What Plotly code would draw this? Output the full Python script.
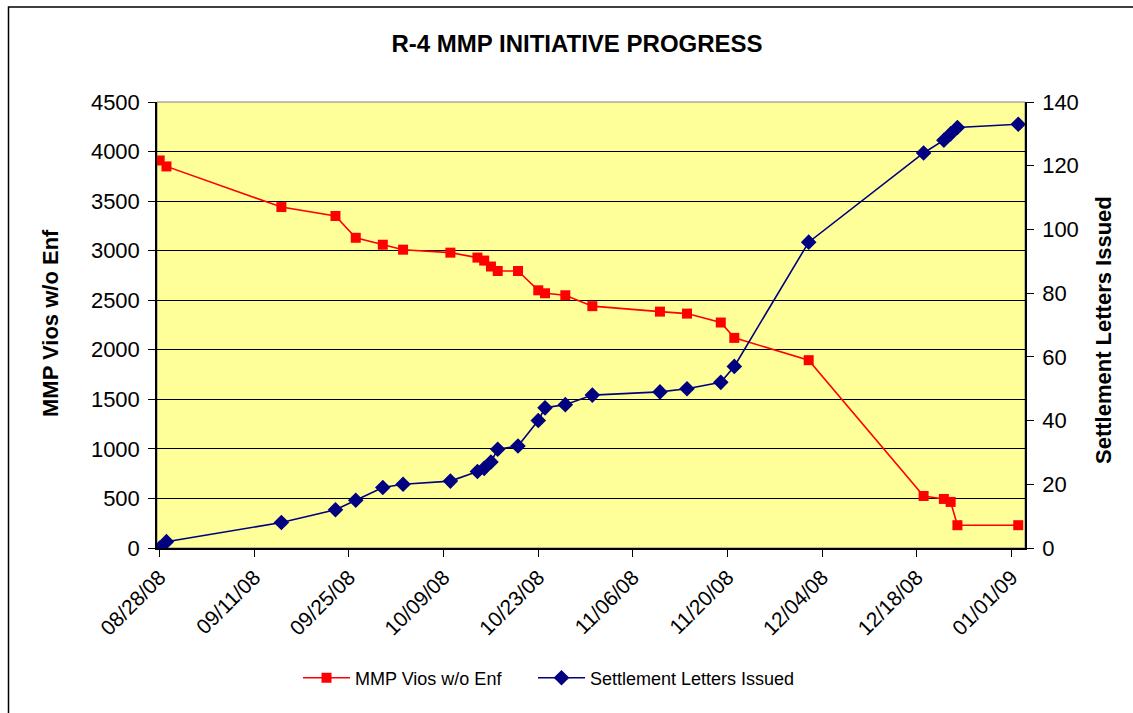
import plotly.graph_objects as go

dates = [
    "2008-08-28", "2008-08-29", "2008-09-15", "2008-09-23", "2008-09-26",
    "2008-09-30", "2008-10-03", "2008-10-10", "2008-10-14", "2008-10-15",
    "2008-10-16", "2008-10-17", "2008-10-20", "2008-10-23", "2008-10-24",
    "2008-10-27", "2008-10-31", "2008-11-10", "2008-11-14", "2008-11-19",
    "2008-11-21", "2008-12-02", "2008-12-19", "2008-12-22", "2008-12-23",
    "2008-12-24", "2009-01-02",
]
mmp_vios = [
    3910, 3850, 3440, 3350, 3130, 3060, 3010, 2980, 2930, 2900,
    2840, 2795, 2795, 2600, 2570, 2550, 2440, 2385, 2365, 2275,
    2120, 1895, 525, 495, 465, 230, 230,
]
settlement_letters = [
    0, 2, 8, 12, 15, 19, 20, 21, 24, 25,
    27, 31, 32, 40, 44, 45, 48, 49, 50, 52,
    57, 96, 124, 128, 130, 132, 133,
]

title_text = "R-4 MMP INITIATIVE PROGRESS"
left_title = "MMP Vios w/o Enf"
right_title = "Settlement Letters Issued"
series_names = ["MMP Vios w/o Enf", "Settlement Letters Issued"]

FONT = "Liberation Sans, Arial, sans-serif"

W, H = 1133, 713
L, R, T, B = 157, 1025, 102, 548
pw, ph = R - L, B - T

def px_x(x):
    return (x - L) / pw

def px_y(y):
    return (B - y) / ph

fig = go.Figure()
fig.add_trace(go.Scatter(
    x=dates, y=mmp_vios, name=series_names[0], mode="lines+markers",
    line=dict(color="#FF0000", width=1.6),
    marker=dict(symbol="square", size=10, color="#FF0000"),
    yaxis="y", legend="legend",
))
fig.add_trace(go.Scatter(
    x=dates, y=settlement_letters, name=series_names[1], mode="lines+markers",
    line=dict(color="#000080", width=1.6),
    marker=dict(symbol="diamond", size=12, color="#000080"),
    yaxis="y2", legend="legend2",
))

legend_common = dict(
    orientation="h", xanchor="left", yanchor="middle",
    font=dict(size=18, family=FONT), bgcolor="rgba(0,0,0,0)",
    itemwidth=47,
)

fig.update_layout(
    width=W, height=H,
    autosize=False,
    margin=dict(l=L, r=W - R, t=T, b=H - B, pad=0),
    paper_bgcolor="white",
    plot_bgcolor="#FFFF99",
    font=dict(family=FONT, size=20, color="black"),
    showlegend=True,
    legend=dict(x=px_x(298), y=px_y(678), **legend_common),
    legend2=dict(x=px_x(533), y=px_y(678), **legend_common),
    title=dict(
        text="<b>" + title_text + "</b>", x=577 / W,
        xanchor="center", y=1 - 44 / H, yanchor="middle",
        font=dict(size=24, family=FONT),
    ),
    xaxis=dict(
        type="date",
        range=["2008-08-27 14:24", "2009-01-03 00:00"],
        tick0="2008-08-28", dtick=14 * 86400000,
        tickformat="%m/%d/%y", tickangle=-45,
        ticks="outside", ticklen=7, tickcolor="black",
        showline=True, linecolor="black", linewidth=1.5,
        showgrid=False, zeroline=False, mirror=False,
        tickfont=dict(size=21),
    ),
    yaxis=dict(
        range=[0, 4500], dtick=500, tick0=0,
        ticks="outside", ticklen=7, tickcolor="black",
        showline=True, linecolor="black", linewidth=1.5,
        showgrid=True, gridcolor="black", gridwidth=1,
        zeroline=False, tickfont=dict(size=22), ticklabelstandoff=4,
    ),
    yaxis2=dict(
        range=[0, 140], dtick=20, tick0=0,
        overlaying="y", side="right",
        ticks="outside", ticklen=7, tickcolor="black",
        showline=True, linecolor="black", linewidth=1.5,
        showgrid=False, zeroline=False, tickfont=dict(size=22),
        ticklabelstandoff=4,
    ),
    shapes=[
        # chart area border
        dict(type="rect", xref="paper", yref="paper",
             x0=px_x(8.5), x1=px_x(1145), y0=px_y(725), y1=px_y(7),
             line=dict(color="black", width=1.5), fillcolor="rgba(0,0,0,0)",
             layer="below"),
        # plot area border
        dict(type="rect", xref="paper", yref="paper",
             x0=0, x1=1, y0=0, y1=1,
             line=dict(color="#808080", width=1), fillcolor="rgba(0,0,0,0)",
             layer="below"),
    ],
    annotations=[
        dict(text="<b>" + left_title + "</b>", xref="paper", yref="paper",
             x=px_x(50), y=px_y(323), textangle=-90, showarrow=False,
             xanchor="center", yanchor="middle", font=dict(size=22, family=FONT)),
        dict(text="<b>" + right_title + "</b>", xref="paper", yref="paper",
             x=px_x(1103), y=px_y(330), textangle=-90, showarrow=False,
             xanchor="center", yanchor="middle", font=dict(size=22, family=FONT)),
    ],
)

fig.write_html(
    "out.html",
    config={"displayModeBar": False},
    post_script="document.body.style.margin='0';document.body.style.padding='0';",
)
